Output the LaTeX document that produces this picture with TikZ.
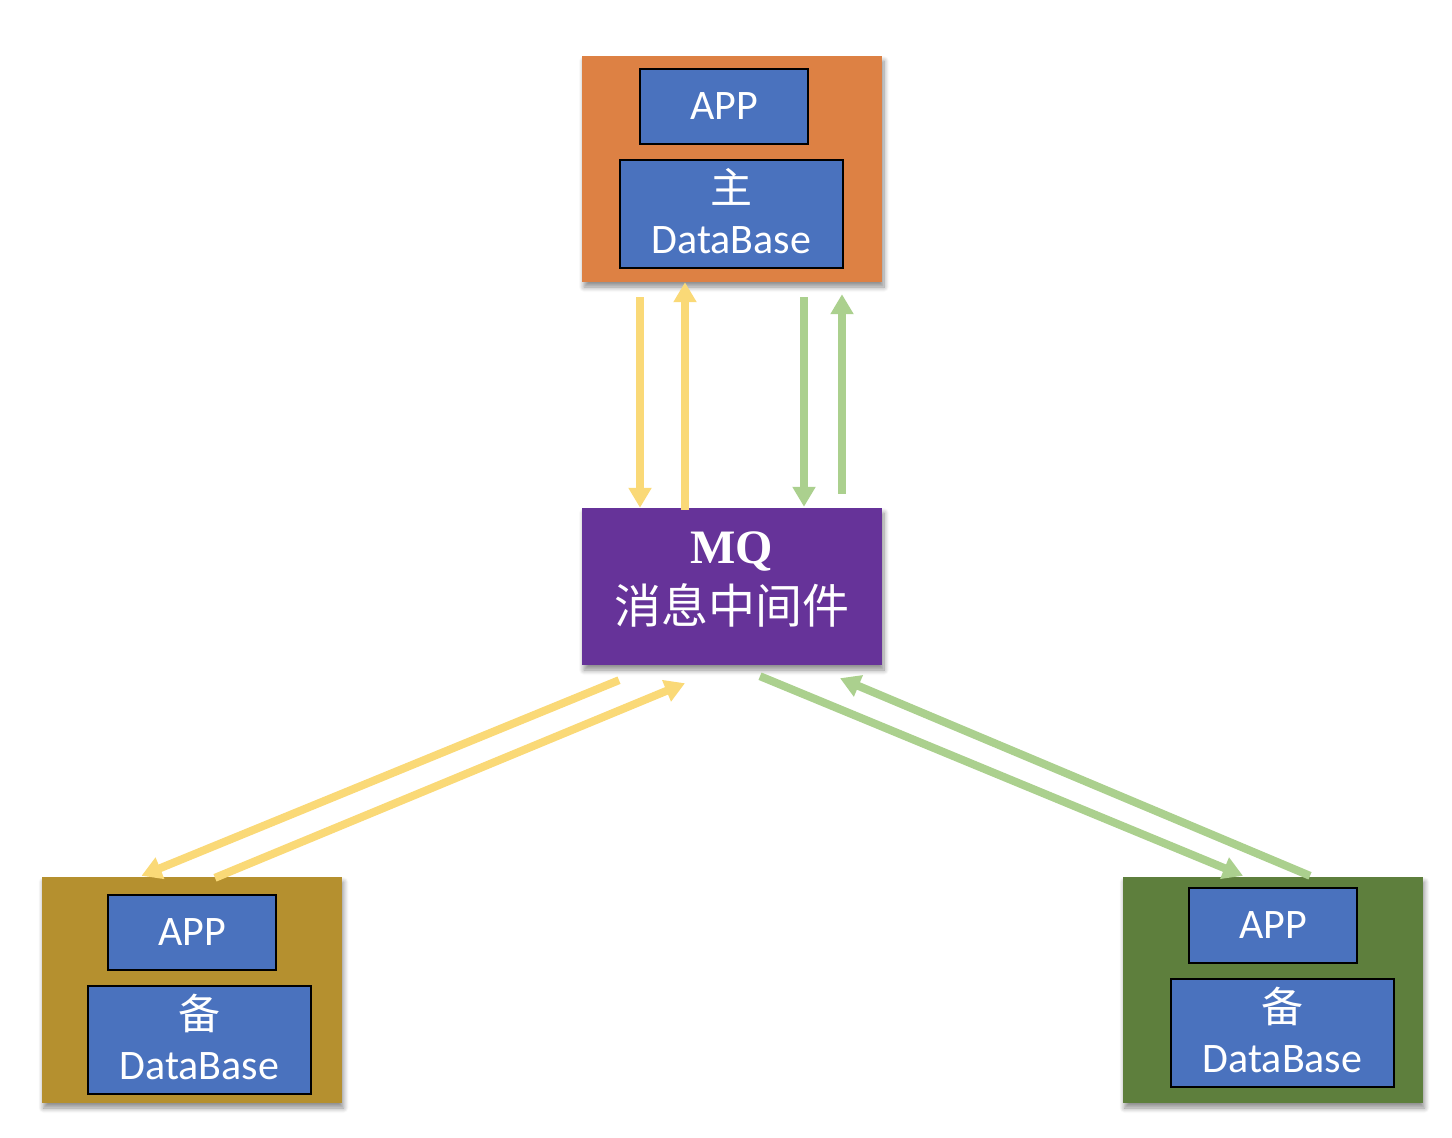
\documentclass[tikz,border=0pt]{standalone}
\usepackage{fontspec}
\setmainfont{Carlito}
\newfontfamily\cjk{Noto Sans CJK SC}
\newfontfamily\serifb{Liberation Serif}
\usetikzlibrary{arrows.meta,shadows,shadows.blur}
\definecolor{orangebox}{HTML}{DD8144}
\definecolor{goldbox}{HTML}{B5902F}
\definecolor{greenbox}{HTML}{5E7F3D}
\definecolor{purplebox}{HTML}{663399}
\definecolor{bluebox}{HTML}{4A72BE}
\definecolor{yarr}{HTML}{FAD977}
\definecolor{garr}{HTML}{ABD08E}
\tikzset{
  softshadow/.style={blur shadow={shadow xshift=2pt, shadow yshift=-5pt,
    shadow blur radius=5pt, shadow blur steps=8, shadow opacity=45}},
  outerbox/.style={rectangle, inner sep=0pt, minimum width=300pt, minimum height=226pt,
    softshadow},
  appbox/.style={rectangle, draw=black, line width=1.5pt, fill=bluebox, text=white,
    minimum width=168pt, minimum height=75pt, inner sep=0pt,
    font=\fontsize{42}{48}\selectfont},
  dbbox/.style={rectangle, draw=black, line width=1.5pt, fill=bluebox, text=white,
    minimum width=223pt, minimum height=108pt, inner sep=0pt, align=center,
    font=\fontsize{42}{50}\selectfont},
  mqbox/.style={rectangle, fill=purplebox, text=white, inner sep=0pt,
    minimum width=300pt, minimum height=157pt, align=center,
    font=\fontsize{47}{60}\selectfont, softshadow},
  yarrow/.style={draw=yarr, line width=8pt, -{Triangle[width=22pt,length=20pt]}},
  garrow/.style={draw=garr, line width=8pt, -{Triangle[width=22pt,length=20pt]}},
}
\begin{document}
\begin{tikzpicture}[x=1pt,y=-1pt]
\useasboundingbox (0,0) rectangle (1452,1138);
% top (main)
\node[outerbox, fill=orangebox] (top) at (732,169) {};
\node[appbox] (topapp) at (724,106.5) {APP};
\node[dbbox] (topdb) at (731.5,214) {{\cjk 主}\\DataBase\rule[-6pt]{0pt}{0pt}};
% MQ
\node[mqbox] (mq) at (732,586.5) {{\serifb\bfseries\fontsize{48}{60}\selectfont MQ}\\{\cjk 消息中间件}\rule[-17pt]{0pt}{0pt}};
% bottom left
\node[outerbox, fill=goldbox] (bl) at (191.5,990) {};
\node[appbox] (blapp) at (192,932.5) {APP};
\node[dbbox] (bldb) at (199.5,1040) {{\cjk 备}\\DataBase\rule[-6pt]{0pt}{0pt}};
% bottom right
\node[outerbox, fill=greenbox] (br) at (1272.5,990) {};
\node[appbox] (brapp) at (1273,925.5) {APP};
\node[dbbox] (brdb) at (1282.5,1033) {{\cjk 备}\\DataBase\rule[-6pt]{0pt}{0pt}};
% vertical arrows
\draw[yarrow] ([xshift=-92pt,yshift=-15pt]top.south) -- ([xshift=-92pt]mq.north);
\draw[yarrow] ([xshift=-47pt,yshift=-2pt]mq.north) -- ([xshift=-47pt]top.south);
\draw[garrow] ([xshift=72pt,yshift=-15pt]top.south) -- ([xshift=72pt,yshift=1pt]mq.north);
\draw[garrow] ([xshift=110pt,yshift=14pt]mq.north) -- ([xshift=110pt,yshift=-12pt]top.south);
% diagonal arrows
\draw[yarrow] ([xshift=-113pt,yshift=-15pt]mq.south) -- ([xshift=-50pt,yshift=1pt]bl.north);
\draw[yarrow] ([xshift=23.5pt,yshift=-1pt]bl.north) -- ([xshift=-47pt,yshift=-18pt]mq.south);
\draw[garrow] ([xshift=28pt,yshift=-11pt]mq.south) -- ([xshift=-29.5pt,yshift=1pt]br.north);
\draw[garrow] ([xshift=37.5pt,yshift=1pt]br.north) -- ([xshift=108pt,yshift=-13pt]mq.south);
\end{tikzpicture}
\end{document}
